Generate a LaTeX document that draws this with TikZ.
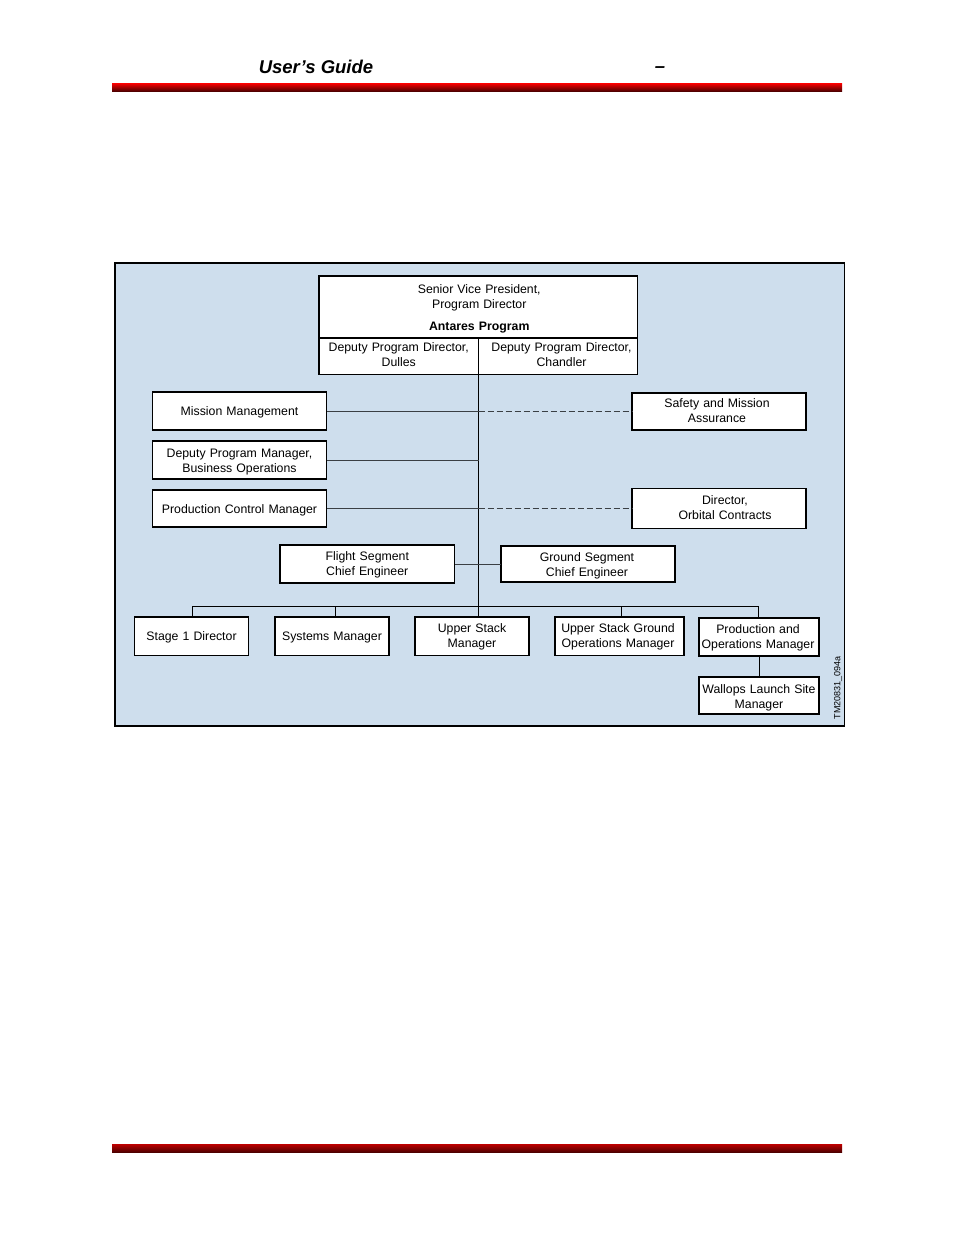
\documentclass[tikz,border=0pt]{standalone}
\usepackage{fontspec}
\setmainfont{Liberation Sans}
\definecolor{panel}{HTML}{CEDEED}
\definecolor{conn}{HTML}{3A3F44}
\tikzset{
  x=1pt,y=-1pt,
  box/.style={draw=black,fill=white,line width=1.5pt,inner sep=0pt,outer sep=0pt,align=center,
    font=\fontsize{12.3}{15}\selectfont,anchor=north west},
  trunk/.style={draw=black,line width=1pt},
  thinline/.style={draw=conn,line width=1pt},
  dashline/.style={draw=conn,line width=1pt,dash pattern=on 6pt off 3pt}
}
% \bx{name}{x1}{y1}{x2}{y2}{text}
\newcommand{\bx}[6]{%
  \pgfmathsetmacro{\bw}{#4-#2}\pgfmathsetmacro{\bh}{#5-#3}%
  \node[box,minimum width=\bw pt,minimum height=\bh pt,text width=\bw pt] (#1) at (#2,#3) {#6};}
\newcommand{\dn}[1]{\rule{0pt}{#1pt}}
\newcommand{\up}[1]{\rule[-#1pt]{0pt}{#1pt}}
\begin{document}
\begin{tikzpicture}
\useasboundingbox (0,0) rectangle (954,1235);
\fill[white] (0,0) rectangle (954,1235);
% header and footer
\node[inner sep=0pt,font=\fontsize{18.5}{20}\selectfont\bfseries\itshape] (title) at (316,67) {User’s Guide};
\node[inner sep=0pt,font=\fontsize{18.5}{20}\selectfont\bfseries\itshape] (dash) at (660,69.5) {–};
\shade[top color=red,middle color=red!92!black,bottom color=black!72!red] (112,83) rectangle (842,91.5);
\shade[top color=red!75!black,middle color=red,bottom color=black!72!red] (112,1144) rectangle (842,1152.5);
% panel
\draw[fill=panel,draw=black,line width=1.5pt] (115,263) rectangle (844.5,726);
% boxes
\bx{top}{319}{276}{637.5}{338}{\dn{12}\hspace*{2pt}Senior Vice President,\\\hspace*{2pt}Program Director\\[7pt]\hspace*{2pt}\textbf{Antares Program}}
\bx{dl}{319}{338}{478.5}{374.5}{Deputy Program Director,\\Dulles\up{3}}
\bx{dr}{478.5}{338}{637.5}{374.5}{\hspace*{7pt}Deputy Program Director,\\\hspace*{7pt}Chandler\up{3}}
\bx{mm}{152.5}{392}{326.5}{430}{\dn{12}Mission Management}
\bx{dp}{152.5}{441}{326.5}{479}{\dn{12}Deputy Program Manager,\\Business Operations}
\bx{pc}{152.5}{490}{326.5}{527}{\dn{12}Production Control Manager}
\bx{sm}{632}{393}{806}{430}{\hspace*{-4pt}Safety and Mission\\\hspace*{-4pt}Assurance\up{1}}
\bx{dc}{632}{488.5}{806}{528.5}{\hspace*{12pt}Director,\\\hspace*{12pt}Orbital Contracts\up{1}}
\bx{fs}{280}{545}{454.5}{583}{\dn{10}Flight Segment\\Chief Engineer}
\bx{gs}{501}{546}{675}{582}{\dn{12}\hspace*{-2pt}Ground Segment\\\hspace*{-2pt}Chief Engineer}
\bx{st}{134.5}{617}{248.5}{655.5}{\dn{12}Stage 1 Director}
\bx{sy}{275}{617}{389}{655.5}{\dn{12}Systems Manager}
\bx{us}{415}{617}{529}{655.5}{\dn{10}Upper Stack\\Manager}
\bx{ug}{555}{617}{684}{655.5}{\dn{10}\hspace*{-3pt}Upper Stack Ground\\\hspace*{-3pt}Operations Manager}
\bx{po}{699}{618}{819}{656}{\dn{10}\hspace*{-2pt}Production and\\\hspace*{-2pt}Operations Manager}
\bx{wl}{699}{677}{819}{714}{\dn{14}Wallops Launch Site\\Manager}
\node[rotate=90,inner sep=0pt,font=\fontsize{9}{10}\selectfont] (tag) at (838,687.5) {TM20831\_094a};
% connector anchors
\coordinate (bus) at (478.5,606);
\coordinate (d1) at (192,606);
\coordinate (d2) at (335.5,606);
\coordinate (d4) at (621,606);
\coordinate (d5) at (758.5,606);
% connectors
\draw[trunk] (dl.south east) -- (bus);
\draw[thinline] (mm.east) -- (mm.east -| bus);
\draw[dashline] (mm.east -| bus) -- (mm.east -| sm.west);
\draw[thinline] (dp.east) -- (dp.east -| bus);
\draw[thinline] (pc.east) -- (pc.east -| bus);
\draw[dashline] (pc.east -| bus) -- (pc.east -| dc.west);
\draw[thinline] (fs.east) -- (fs.east -| gs.west);
\draw[trunk] (d1) -- (d5);
\draw[trunk] (d1) -- (d1 |- st.north);
\draw[trunk] (d2) -- (d2 |- sy.north);
\draw[trunk] (bus) -- (bus |- us.north);
\draw[trunk] (d4) -- (d4 |- ug.north);
\draw[trunk] (d5) -- (d5 |- po.north);
\draw[trunk] (po.south) -- (wl.north);
\end{tikzpicture}
\end{document}
